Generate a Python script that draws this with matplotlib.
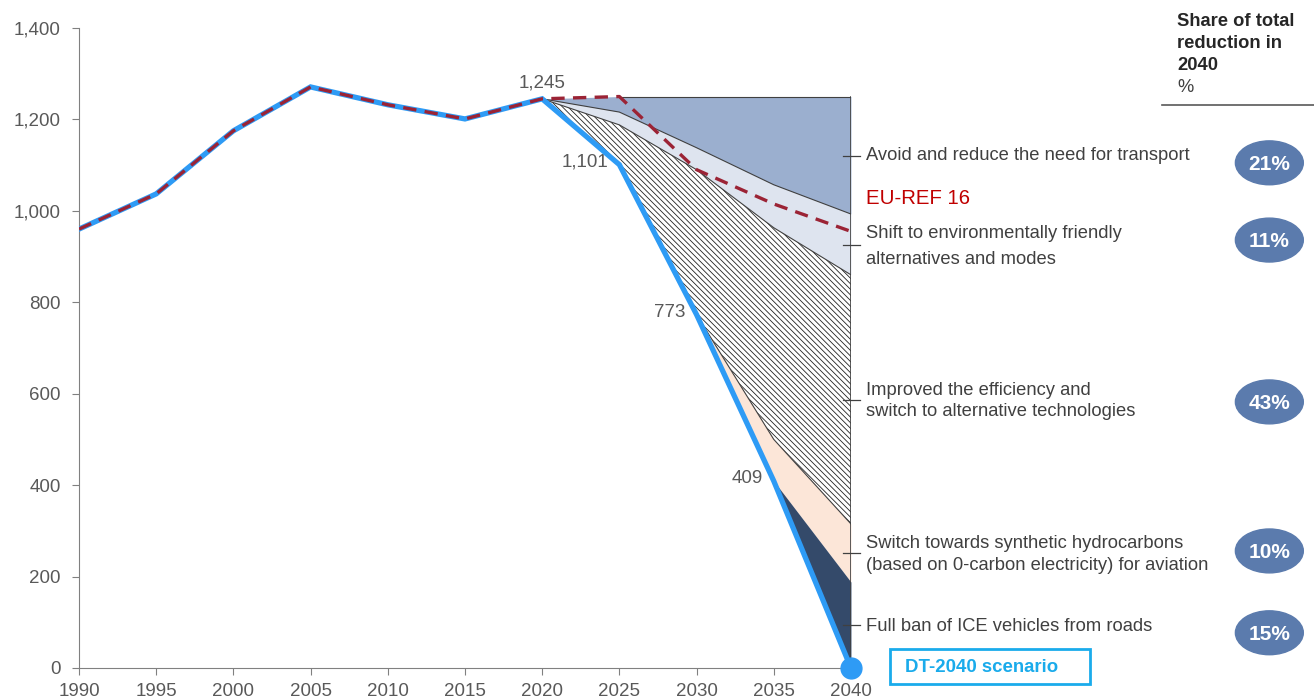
import numpy as np
import matplotlib
matplotlib.use('Agg')
import matplotlib.pyplot as plt
from matplotlib.patches import Ellipse, Rectangle

plt.rcParams['font.family'] = ['Liberation Sans', 'DejaVu Sans']
plt.rcParams['hatch.linewidth'] = 0.6

# historic emissions (both series share this part)
hist_years = [1990, 1995, 2000, 2005, 2010, 2015, 2020]
hist_vals = [960, 1037, 1175, 1271, 1232, 1201, 1245]

# scenario years
sc_years = [2020, 2025, 2030, 2035, 2040]
dt2040 = [1245, 1101, 773, 409, 0]
eu_ref = [1245, 1250, 1090, 1015, 955]

# stacked boundaries of the reduction wedges
top = [1245, 1250, 1250, 1250, 1250]
b_avoid = [1245, 1216, 1138, 1057, 993]
b_shift = [1245, 1188, 1090, 963, 860]
b_eff = [1245, 1101, 773, 500, 315]
b_synth = [1245, 1101, 773, 409, 188]

labels = ['Avoid and reduce the need for transport',
          'Shift to environmentally friendly\nalternatives and modes',
          'Improved the efficiency and\nswitch to alternative technologies',
          'Switch towards synthetic hydrocarbons\n(based on 0-carbon electricity) for aviation',
          'Full ban of ICE vehicles from roads']
label_y = [1122, 922, 584, 248, 90]
label_spacing = [1.2, 1.75, 1.35, 1.35, 1.2]
tick_y = [1120, 925, 587, 251, 94]
shares = ['21%', '11%', '43%', '10%', '15%']
share_y = [1105, 936, 582, 256, 77]

point_labels = ['1,245', '1,101', '773', '409']

fig = plt.figure(figsize=(13.14, 6.99), dpi=100)
ax = fig.add_axes([0.0601, 0.0444, 0.5875, 0.9156])

grey = '#595959'
ax.fill_between(sc_years, b_avoid, top, color='#9BAFCF', lw=0)
ax.fill_between(sc_years, b_shift, b_avoid, color='#DEE4EF', lw=0)
ax.fill_between(sc_years, b_eff, b_shift, facecolor='white', edgecolor='#222222',
                hatch='\\\\\\\\\\\\', lw=0)
ax.fill_between(sc_years, b_synth, b_eff, color='#FCE6D8', lw=0)
ax.fill_between(sc_years, dt2040, b_synth, color='#344A6A', lw=0)
for b in [b_avoid, b_shift, b_eff]:
    ax.plot(sc_years, b, color='#404040', lw=0.8)
ax.plot(sc_years[1:], top[1:], color='#404040', lw=0.8)
ax.plot([2040, 2040], [0, 1250], color='#404040', lw=1.2)

ax.plot(hist_years + sc_years[1:], hist_vals + dt2040[1:], color='#2E9BF5', lw=3.8,
        solid_joinstyle='miter', zorder=5)
ax.plot([2040], [0], 'o', color='#2E9BF5', ms=15, zorder=6, clip_on=False)
ax.plot(hist_years + sc_years[1:], hist_vals + eu_ref[1:], color='#9B2335', lw=2.4,
        dashes=(4, 2.5), zorder=7)

# value labels on the DT-2040 path
ax.text(2020, 1262, point_labels[0], ha='center', va='bottom', fontsize=13.5, color=grey)
for yr, v, t in zip(sc_years[1:4], dt2040[1:4], point_labels[1:]):
    ax.text(yr - 0.7, v + 5, t, ha='right', va='center', fontsize=13.5, color=grey)

# right-hand labels and share bubbles
for ty, ly, ls, lab, sy, s in zip(tick_y, label_y, label_spacing, labels, share_y, shares):
    ax.plot([2039.5, 2040.6], [ty, ty], color='#404040', lw=0.9, clip_on=False)
    ax.text(2041.0, ly, lab, ha='left', va='center', fontsize=13.2, color='#404040',
            linespacing=ls, clip_on=False)
    ax.add_patch(Ellipse((2067.1, sy), 4.4, 96, color='#5B7BAD', clip_on=False))
    ax.text(2067.1, sy - 4, s, ha='center', va='center', fontsize=15, color='white',
            fontweight='bold', clip_on=False)

ax.text(2041.0, 1028, 'EU-REF 16', ha='left', va='center', fontsize=14.7, color='#C00000')
ax.add_patch(Rectangle((2042.5, -35), 13.0, 76.5, fc='white', ec='#1AABEB', lw=2,
                       clip_on=False, zorder=8))
ax.text(2043.5, 2, 'DT-2040 scenario', ha='left', va='center', fontsize=13.4,
        color='#1AABEB', fontweight='bold', zorder=9, clip_on=False)

fig.text(1177 / 1314, 1 - 13 / 699, 'Share of total\nreduction in\n2040', ha='left', va='top',
         fontsize=13.2, fontweight='bold', color='#262626', linespacing=1.4)
fig.text(1177 / 1314, 1 - 88 / 699, '%', ha='left', va='center', fontsize=13.2, color='#404040')
fig.add_artist(plt.Line2D([1162 / 1314, 1], [1 - 105 / 699] * 2, color='#595959', lw=1.2))

ax.set_xlim(1990, 2040)
ax.set_ylim(0, 1400)
ax.set_xticks(range(1990, 2041, 5))
ax.set_yticks(range(0, 1401, 200))
ax.yaxis.set_major_formatter(matplotlib.ticker.FuncFormatter(lambda v, p: f'{int(v):,}'))
for s in ['top', 'right']:
    ax.spines[s].set_visible(False)
for s in ['left', 'bottom']:
    ax.spines[s].set_color('#808080')
ax.tick_params(colors='#808080', labelcolor=grey, labelsize=13.5, length=5)
ax.tick_params(axis='x', pad=6)
ax.tick_params(axis='y', pad=8)

fig.savefig('out.png', dpi=100)
